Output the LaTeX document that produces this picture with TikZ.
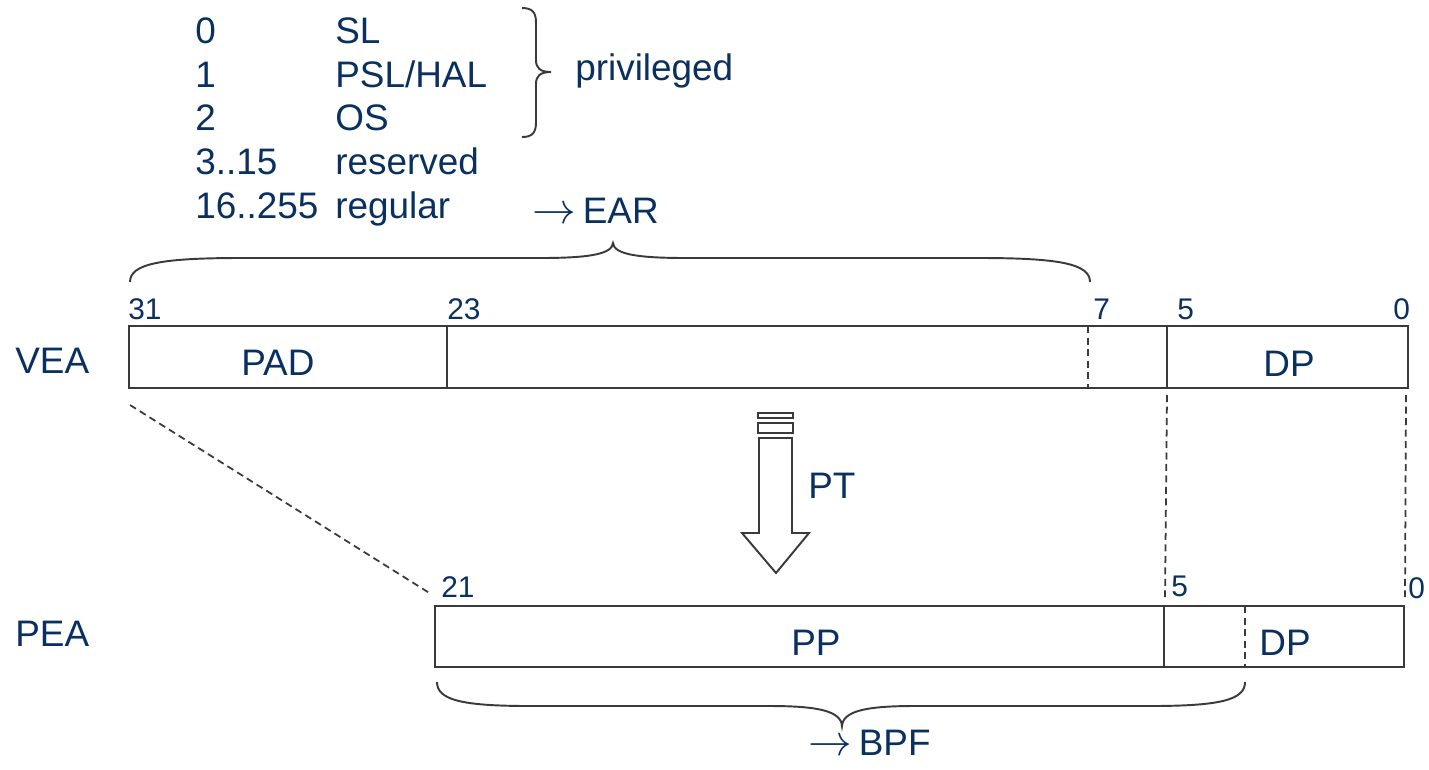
\documentclass[tikz,border=0pt]{standalone}
\usepackage{fontspec}
\setmainfont{Liberation Sans}
\definecolor{txt}{RGB}{10,48,96}
\definecolor{ln}{RGB}{58,58,58}
\begin{document}
\begin{tikzpicture}[x=0.02cm,y=-0.02cm,
  lbl/.style={inner sep=0pt,anchor=base west,text=txt,font=\fontsize{21}{25}\selectfont},
  bitno/.style={inner sep=0pt,anchor=base west,text=txt,font=\fontsize{17}{20}\selectfont},
  field/.style={draw=ln,line width=1.1pt},
  cut/.style={draw=ln,line width=1pt,dash pattern=on 0.14cm off 0.09cm},
  curly/.style={draw=ln,line width=1.1pt},
  bigarrow/.style={draw=ln,line width=1.1pt,fill=white}]
\useasboundingbox (0,0) rectangle (1429,769);

% privilege level table
\node[lbl] (l0) at (195,43) {0};
\node[lbl] (l1) at (195,87) {1};
\node[lbl] (l2) at (195,130) {2};
\node[lbl] (l3) at (195,174) {3..15};
\node[lbl] (l4) at (195,218) {16..255};
\node[lbl] (n0) at (335,43) {SL};
\node[lbl] (n1) at (335,87) {PSL/HAL};
\node[lbl] (n2) at (335,130) {OS};
\node[lbl] (n3) at (335,174) {reserved};
\node[lbl] (n4) at (335,218) {regular};

% brace grouping the privileged levels
\draw[curly] (522,8) .. controls (533,8) and (536,13) .. (536,23) -- (536,60)
  .. controls (536,68) and (540,72) .. (551,72)
  .. controls (540,72) and (536,76) .. (536,84) -- (536,122)
  .. controls (536,132) and (533,137) .. (522,137);
\node[lbl] (priv) at (575,80) {privileged};

% brace over the EAR part of the virtual address
\draw[curly] (130,282) .. controls (130,264) and (160,258) .. (240,258) -- (540,258)
  .. controls (590,258) and (612,254) .. (613,243)
  .. controls (614,254) and (636,258) .. (686,258) -- (980,258)
  .. controls (1060,258) and (1090,264) .. (1090,282);
\node[lbl] (ear) at (532,223) {{\fontsize{24}{25}\selectfont$\rightarrow$}\kern-2pt{} EAR};

% virtual effective address
\node[lbl] (vea) at (15,373) {VEA};
\coordinate (vea-nw) at (129,326);
\coordinate (vea-se) at (1408,388);
\draw[field] (vea-nw) rectangle (vea-se);
\draw[field] (447,326) -- (447,388);
\draw[field] (1167,326) -- (1167,388);
\draw[cut] (1088,326) -- (1088,388);
\node[bitno] (b31) at (128,319) {31};
\node[bitno] (b23) at (447,319) {23};
\node[bitno] (b7) at (1093,319) {7};
\node[bitno] (b5) at (1177,319) {5};
\node[bitno] (b0) at (1393,319) {0};
\node[lbl] (pad) at (241,375) {PAD};
\node[lbl] (vdp) at (1263,376) {DP};

% page translation arrow
\draw[bigarrow] (758,413) rectangle (793,418);
\draw[bigarrow] (758,423) rectangle (793,433);
\draw[bigarrow] (759,438) -- (792,438) -- (792,533) -- (809,533) -- (776,573)
  -- (742,533) -- (759,533) -- cycle;
\node[lbl] (pt) at (808,498) {PT};

% physical effective address
\node[lbl] (pea) at (15,646) {PEA};
\coordinate (pea-nw) at (435,606);
\coordinate (pea-se) at (1404,667);
\draw[field] (pea-nw) rectangle (pea-se);
\draw[field] (1164,606) -- (1164,667);
\draw[cut] (1245,606) -- (1245,667);
\node[bitno] (p21) at (441,597) {21};
\node[bitno] (p5) at (1171,596) {5};
\node[bitno] (p0) at (1408,598) {0};
\node[lbl] (pp) at (791,655) {PP};
\node[lbl] (pdp) at (1259,655) {DP};

% bit correspondences between the two addresses
\coordinate (m31a) at (130,405);
\coordinate (m31b) at (431,594);
\coordinate (m5a) at (1167,395);
\coordinate (m5b) at (1165,597);
\coordinate (m0a) at (1406,395);
\coordinate (m0b) at (1405,597);
\draw[cut] (m31a) -- (m31b);
\draw[cut] (m5a) -- (m5b);
\draw[cut] (m0a) -- (m0b);

% brace under the BPF part of the physical address
\draw[curly] (437,682) .. controls (437,700) and (462,706) .. (530,706) -- (770,706)
  .. controls (818,706) and (841,711) .. (842,726)
  .. controls (843,711) and (866,706) .. (914,706) -- (1150,706)
  .. controls (1220,706) and (1245,700) .. (1245,682);
\node[lbl] (bpf) at (808,755) {{\fontsize{24}{25}\selectfont$\rightarrow$}\kern-2pt{} BPF};
\end{tikzpicture}
\end{document}
